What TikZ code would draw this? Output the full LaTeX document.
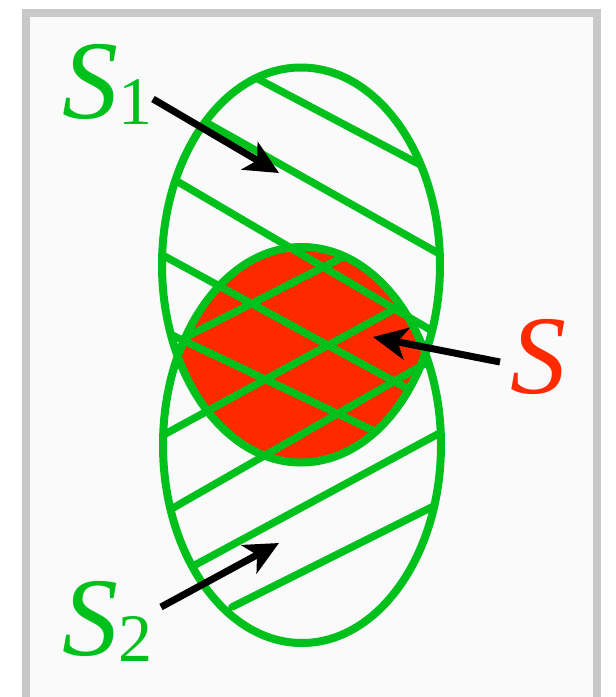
\documentclass[tikz,border=0pt]{standalone}
\usepackage{fontspec}
\setmainfont{Liberation Serif}
\usetikzlibrary{arrows.meta}
\definecolor{sgreen}{RGB}{0,192,28}
\definecolor{sred}{RGB}{255,42,0}
\definecolor{framegray}{RGB}{200,200,200}
\definecolor{paper}{RGB}{250,250,250}
\begin{document}
\begin{tikzpicture}[x=1pt,y=-1pt,
  outline/.style={draw=sgreen,line width=8pt},
  hatch/.style={draw=sgreen,line width=7.5pt,line cap=round},
  pointer/.style={draw=black,line width=7pt,-{Stealth[length=34pt,width=32pt,inset=9pt]}},
  lbl/.style={inner sep=0pt,anchor=base west,font=\fontsize{112}{112}\selectfont\itshape},
  subs/.style={}]
\useasboundingbox (0,0) rectangle (616,697);
\fill[white] (0,0) rectangle (616,697);
\fill[paper] (26,13) rectangle (597,697);
\draw[framegray,line width=8pt] (26,697) -- (26,13) -- (597,13) -- (597,697);

% S = S1 intersect S2
\begin{scope}
  \clip (301,265) ellipse [x radius=139pt, y radius=197.5pt];
  \fill[sred] (302,445) ellipse [x radius=139pt, y radius=198pt];
\end{scope}

% hatching of S1
\begin{scope}
  \clip (301,265) ellipse [x radius=139pt, y radius=197.5pt];
  \draw[hatch,shorten <=-15pt,shorten >=-15pt] (260,80) -- (417,163);
  \draw[hatch,shorten <=-15pt,shorten >=-15pt] (207,123) -- (438,253);
  \draw[hatch,shorten <=-15pt,shorten >=-15pt] (180,183) -- (434,332);
  \draw[hatch,shorten <=-15pt,shorten >=-15pt] (166,257) -- (410,390);
  \draw[hatch,shorten <=-15pt] (176,337) -- (372,430);
\end{scope}

% hatching of S2
\begin{scope}
  \clip (302,445) ellipse [x radius=139pt, y radius=198pt];
  \draw[hatch,shorten <=-15pt,shorten >=-15pt] (184,338) -- (343,257);
  \draw[hatch,shorten <=-15pt,shorten >=-15pt] (167,433) -- (400,306);
  \draw[hatch,shorten <=-15pt,shorten >=-15pt] (173,508) -- (421,366);
  \draw[hatch,shorten <=-15pt,shorten >=-15pt] (195,565) -- (438,434);
  \draw[hatch,shorten >=-15pt] (232,607) -- (432,507);
\end{scope}

% outlines
\draw[outline] (301,265) ellipse [x radius=139pt, y radius=197.5pt];
\draw[outline] (302,445) ellipse [x radius=139pt, y radius=198pt];

% labels
\node[lbl,text=sgreen] (s1) at (62,118) {S\raisebox{-6pt}{\fontsize{68}{68}\selectfont\upshape 1}};
\node[lbl,text=sgreen] (s2) at (62,655) {S\raisebox{-6pt}{\fontsize{68}{68}\selectfont\upshape 2}};
\node[lbl,text=sred] (s) at (510,393) {S};

% pointers
\coordinate (a1s) at (153,99);  \coordinate (a1e) at (279,173);
\coordinate (a2s) at (161,607); \coordinate (a2e) at (279,543);
\coordinate (a3s) at (500,362); \coordinate (a3e) at (373,337);
\draw[pointer] (a1s) -- (a1e);
\draw[pointer] (a2s) -- (a2e);
\draw[pointer] (a3s) -- (a3e);
\end{tikzpicture}
\end{document}
